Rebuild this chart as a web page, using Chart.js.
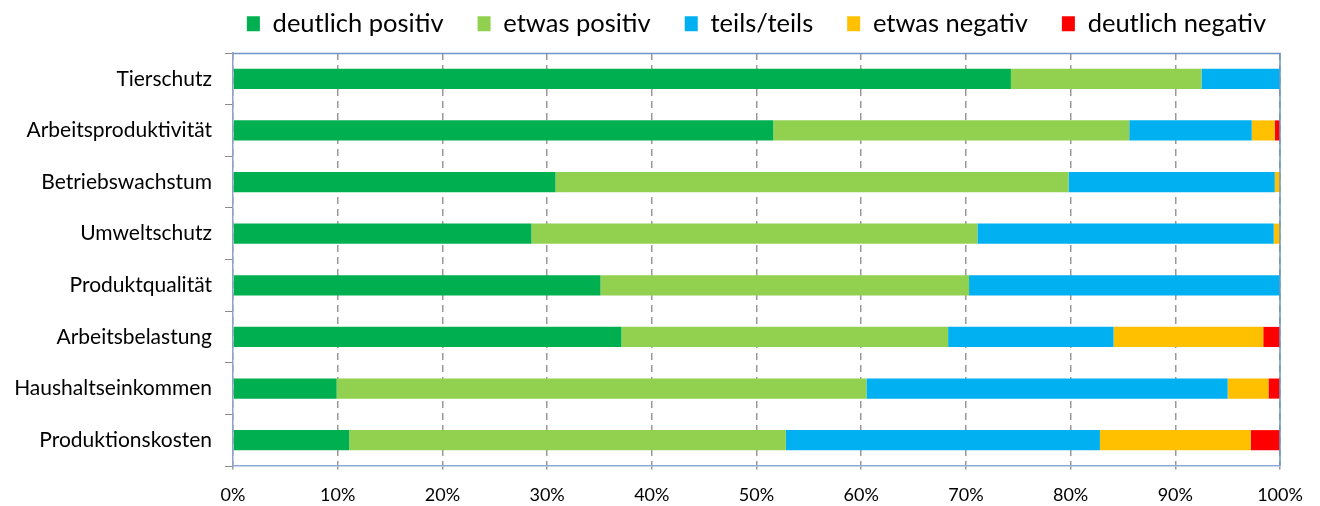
<!DOCTYPE html>
<html>
<head>
<meta charset="utf-8">
<script src="https://cdn.jsdelivr.net/npm/chart.js@4/dist/chart.umd.min.js"></script>
<style>
  html, body { margin: 0; padding: 0; background: #fff; }
  #wrap { width: 1320px; height: 506px; }
</style>
</head>
<body>
<div id="wrap"><canvas id="c" width="1320" height="506"></canvas></div>
<script>
const categories = ["Tierschutz", "Arbeitsproduktivität", "Betriebswachstum", "Umweltschutz",
  "Produktqualität", "Arbeitsbelastung", "Haushaltseinkommen", "Produktionskosten"];
const seriesNames = ["deutlich positiv", "etwas positiv", "teils/teils", "etwas negativ", "deutlich negativ"];
const deutlichPositiv = [74.3, 51.6, 30.8, 28.5, 35.1, 37.1, 9.9, 11.1];
const etwasPositiv    = [18.2, 34.0, 49.0, 42.6, 35.2, 31.2, 50.6, 41.7];
const teilsTeils      = [7.5, 11.7, 19.7, 28.3, 29.7, 15.8, 34.5, 30.0];
const etwasNegativ    = [0, 2.2, 0.5, 0.6, 0, 14.3, 3.9, 14.4];
const deutlichNegativ = [0, 0.5, 0, 0, 0, 1.6, 1.1, 2.8];
const xTicks = [0, 10, 20, 30, 40, 50, 60, 70, 80, 90, 100];
const colors = ["#00B050", "#92D050", "#00B0F0", "#FFC000", "#FF0000"];

const seriesValues = [deutlichPositiv, etwasPositiv, teilsTeils, etwasNegativ, deutlichNegativ];
const FONT = "Lato";
const LEGEND_PAD = 34;
const TOP_SHIFT = -23;
const LEGEND_WIDEN = 63;

const frame = {
  id: 'frame',
  afterDatasetsDraw(chart) {
    const a = chart.chartArea, ctx = chart.ctx;
    ctx.save();
    ctx.strokeStyle = '#6F94C8';
    ctx.lineWidth = 1.5;
    ctx.beginPath();
    ctx.moveTo(a.left, a.top + 0.5);
    ctx.lineTo(a.right, a.top + 0.5);
    ctx.lineTo(a.right, a.bottom);
    ctx.stroke();
    ctx.restore();
  }
};

const legendSize = {
  id: 'legendSize',
  beforeLayout(chart) {
    const lg = chart.legend;
    if (lg && !lg._sized) {
      const orig = lg.fit.bind(lg);
      lg.fit = function () {
        const mw = this.maxWidth;
        this.maxWidth = 2000;
        orig();
        this.maxWidth = mw;
        this.width = mw;
        this.height = 53 - TOP_SHIFT;
      };
      lg._sized = true;
    }
  },
  afterLayout(chart) {
    const lg = chart.legend;
    if (lg) {
      lg.left -= LEGEND_WIDEN;
      lg.right += LEGEND_WIDEN;
      lg.width = lg.right - lg.left;
    }
  }
};

new Chart(document.getElementById('c'), {
  type: 'bar',
  data: {
    labels: categories,
    datasets: seriesNames.map((n, i) => ({
      label: n,
      data: seriesValues[i],
      backgroundColor: colors[i],
      borderWidth: 0,
      categoryPercentage: 1,
      barPercentage: 0.39
    }))
  },
  options: {
    indexAxis: 'y',
    responsive: false,
    animation: false,
    devicePixelRatio: 1,
    layout: { padding: { top: TOP_SHIFT, right: 40, bottom: 0, left: 6 } },
    plugins: {
      legend: {
        position: 'top',
        fullSize: false,
        labels: {
          font: { family: FONT, size: 25.5 },
          color: '#000',
          boxWidth: 13,
          boxHeight: 15,
          padding: LEGEND_PAD,
          useBorderRadius: false
        }
      },
      tooltip: { enabled: false }
    },
    scales: {
      x: {
        stacked: true,
        min: 0, max: 100,
        afterBuildTicks(scale) { scale.ticks = xTicks.map(v => ({ value: v })); },
        afterFit(scale) { scale.height = 40; },
        ticks: {
          callback: v => v + '%',
          font: { family: FONT, size: 18 },
          color: '#000',
          padding: 12,
          maxRotation: 0
        },
        grid: {
          color: '#999999',
          lineWidth: 1.5,
          tickLength: 6,
          tickBorderDash: [3, 3],
          drawTicks: true
        },
        border: { display: true, color: '#8FA9D4', width: 1.5, dash: [7, 5] }
      },
      y: {
        stacked: true,
        afterFit(scale) { scale.width = 227; },
        ticks: {
          font: { family: FONT, size: 21 },
          color: '#000',
          padding: 13
        },
        grid: {
          offset: true,
          drawOnChartArea: false,
          drawTicks: true,
          tickLength: 8,
          color: '#8C8C8C'
        },
        border: { display: true, color: '#8FA3C4', width: 1.5 }
      }
    }
  },
  plugins: [frame, legendSize]
});
</script>
</body>
</html>
